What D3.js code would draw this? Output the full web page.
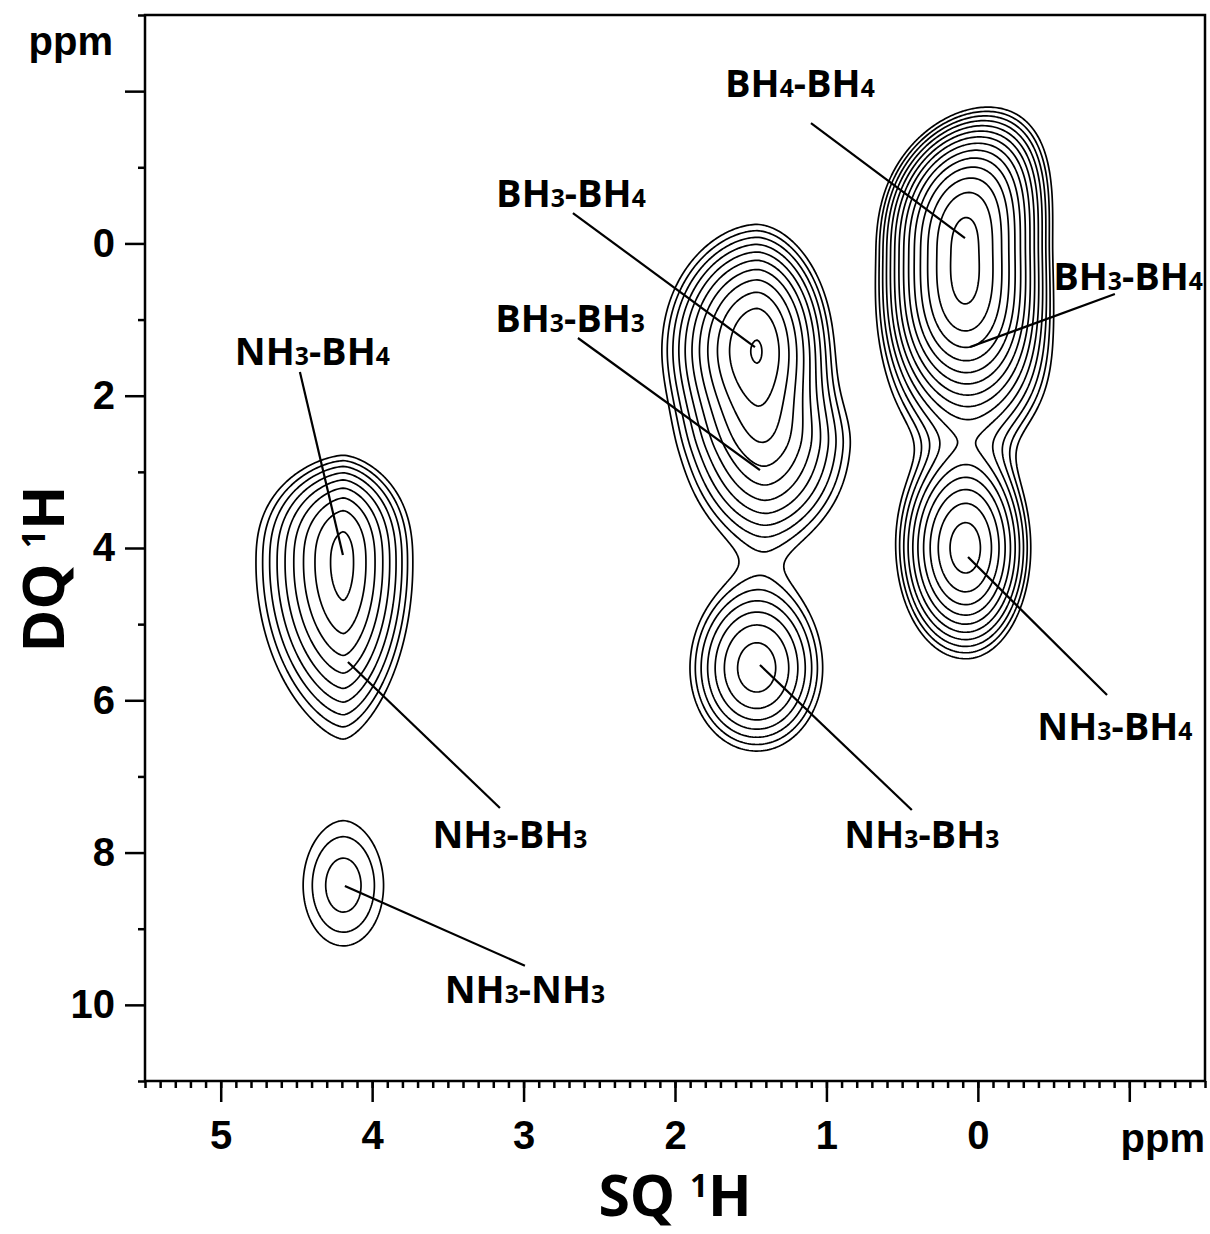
<!DOCTYPE html>
<html><head><meta charset="utf-8">
<script src="https://cdn.jsdelivr.net/npm/d3@7"></script>
<style>body{margin:0;background:#fff}</style>
</head><body>
<svg id="chart" width="1210" height="1234" xmlns="http://www.w3.org/2000/svg"></svg>
<script>
// ---------------- DATA ----------------
// Peaks (SQ ppm, DQ ppm) modelled as separable super-Gaussian components
const peakNames       = ["NH3-BH4 L", "NH3-NH3", "BH3-BH4 M", "BH3-BH3", "NH3-BH3 M", "BH4-BH4", "BH3-BH4 R", "NH3-BH4 R"];
const peakSQ          = [4.19, 4.19, 1.46, 1.40, 1.46, 0.085, 0.06, 0.08];
const peakDQ          = [4.20, 8.44, 1.35, 2.70, 5.58, 0.11, 1.72, 4.00];
const peakAmp         = [6.5, 1.73, 9.2, 4.2, 4.3, 19.5, 3.85, 8.3];
const peakWidthSQHigh = [0.39, 0.357, 0.40, 0.42, 0.365, 0.34, 0.40, 0.315];
const peakWidthSQLow  = [0.31, 0.357, 0.32, 0.44, 0.36, 0.335, 0.42, 0.295];
const peakWidthDQUp   = [1.103, 1.06, 1.074, 0.80, 0.95, 1.25, 0.85, 1.00];
const peakWidthDQDown = [1.66, 1.06, 1.00, 1.10, 0.90, 1.33, 0.85, 1.00];
const peakShapeSQ     = [1.6, 2, 1.8, 1.8, 2, 2, 2, 2];
const peakShapeDQUp   = [2.5, 2, 2, 2, 2, 2.6, 2, 2];
const peakShapeDQDown = [2, 2, 2, 2, 2, 3, 2, 2];
const peakLean        = [0, 0, 0, 0, 0, 0.042, 0, 0];   // upper part leans toward low SQ

// contour levels (geometric, factor 1.25)
const contourLevels = [1.00, 1.25, 1.5625, 1.953, 2.441, 3.052, 3.815, 4.768, 5.960, 7.451, 9.313, 11.64, 14.55, 18.19, 22.74];

// axis ticks
const sqMajorTicks = [5, 4, 3, 2, 1, 0, -1];
const sqTickLabels = ["5", "4", "3", "2", "1", "0", ""];
const dqMajorTicks = [-2, 0, 2, 4, 6, 8, 10];
const dqTickLabels = ["", "0", "2", "4", "6", "8", "10"];

// annotations: label text parts [main, sub, main, sub], label anchor (SQ, DQ), leader from/to (SQ, DQ)
const annoText  = [["BH","4","-BH","4"], ["BH","3","-BH","4"], ["BH","3","-BH","3"], ["BH","3","-BH","4"],
                   ["NH","3","-BH","4"], ["NH","3","-BH","3"], ["NH","3","-NH","3"], ["NH","3","-BH","3"], ["NH","3","-BH","4"]];
const annoLabelSQ = [1.175, 2.687, 2.693, -0.992, 4.395, 3.090, 2.991, 0.370, -0.905];
const annoLabelDQ = [-1.923, -0.478, 1.164, 0.612, 1.596, 7.941, 9.976, 7.941, 6.522];
const annoFromSQ  = [1.102, 2.674, 2.641, -0.905, 4.477, 3.156, 2.991, 0.436, -0.853];
const annoFromDQ  = [-1.581, -0.399, 1.242, 0.665, 1.689, 7.415, 9.486, 7.441, 5.930];
const annoToSQ    = [0.085, 1.472, 1.439, 0.052, 4.193, 4.160, 4.180, 1.439, 0.065];
const annoToDQ    = [-0.071, 1.361, 2.976, 1.361, 4.092, 5.498, 8.439, 5.536, 4.118];

// ---------------- CHART ----------------
const m = {left: 145, top: 15, right: 1205, bottom: 1081};
const x = d3.scaleLinear().domain([5.5, -1.5]).range([m.left, m.right]);
const y = d3.scaleLinear().domain([-3, 11]).range([m.top, m.bottom]);
const svg = d3.select("#chart");

function field(sq, dq) {
  let v = 0;
  for (let i = 0; i < peakSQ.length; i++) {
    const ddq = dq - peakDQ[i];
    const c = peakSQ[i] - (ddq < 0 ? peakLean[i] * ddq * ddq : 0);
    const dsq = sq - c;
    const sx = dsq > 0 ? peakWidthSQHigh[i] : peakWidthSQLow[i];
    const sy = ddq < 0 ? peakWidthDQUp[i] : peakWidthDQDown[i];
    const py = ddq < 0 ? peakShapeDQUp[i] : peakShapeDQDown[i];
    const e = Math.pow(Math.abs(dsq) / sx, peakShapeSQ[i]) + Math.pow(Math.abs(ddq) / sy, py);
    v += peakAmp[i] * Math.exp(-e);
  }
  return v;
}

const step = 2;
const nx = Math.ceil((m.right - m.left) / step) + 1;
const ny = Math.ceil((m.bottom - m.top) / step) + 1;
const values = new Float64Array(nx * ny);
for (let j = 0; j < ny; j++) {
  const dq = y.invert(m.top + j * step);
  for (let i = 0; i < nx; i++) {
    values[j * nx + i] = field(x.invert(m.left + i * step), dq);
  }
}
const contours = d3.contours().size([nx, ny]).thresholds(contourLevels)(values);
const proj = d3.geoTransform({point: function (px, py) {
  this.stream.point(m.left + (px - 0.5) * step, m.top + (py - 0.5) * step);
}});
const path = d3.geoPath(proj);

svg.append("g").attr("class", "contours")
  .selectAll("path").data(contours).join("path")
  .attr("d", path)
  .attr("fill", "none")
  .attr("stroke", "#000")
  .attr("stroke-width", 1.7)
  .attr("stroke-linejoin", "round");

// leader lines
const annIdx = d3.range(annoText.length);
svg.append("g").selectAll("line").data(annIdx).join("line")
  .attr("x1", i => x(annoFromSQ[i])).attr("y1", i => y(annoFromDQ[i]))
  .attr("x2", i => x(annoToSQ[i])).attr("y2", i => y(annoToDQ[i]))
  .attr("stroke", "#000").attr("stroke-width", 2.2);

// labels
const lab = svg.append("g").attr("font-family", "'Open Sans', 'DejaVu Sans', sans-serif")
  .attr("font-weight", "bold").attr("font-size", 38).attr("fill", "#000");
annIdx.forEach(i => {
  const t = lab.append("text").attr("x", x(annoLabelSQ[i])).attr("y", y(annoLabelDQ[i]))
    .attr("text-anchor", "middle");
  annoText[i].forEach((s, k) => {
    t.append("tspan").attr("font-size", k % 2 ? "0.65em" : "1em").text(s);
  });
});

// axes
const axisFont = "'Liberation Sans', Arial, sans-serif";
const gx = svg.append("g").attr("transform", `translate(0,${m.bottom})`)
  .call(d3.axisBottom(x).tickValues(sqMajorTicks).tickSize(21).tickSizeOuter(0).tickPadding(19)
    .tickFormat((d, i) => sqTickLabels[i]));
const gxm = svg.append("g").attr("transform", `translate(0,${m.bottom})`)
  .call(d3.axisBottom(x).tickValues(d3.range(-15, 56).map(v => v / 10)).tickSize(7).tickSizeOuter(0).tickFormat(""));
const gy = svg.append("g").attr("transform", `translate(${m.left},0)`)
  .call(d3.axisLeft(y).tickValues(dqMajorTicks).tickSize(20).tickSizeOuter(0).tickPadding(10)
    .tickFormat((d, i) => dqTickLabels[i]));
const gym = svg.append("g").attr("transform", `translate(${m.left},0)`)
  .call(d3.axisLeft(y).tickValues(d3.range(-3, 12, 2)).tickSize(7).tickSizeOuter(0).tickFormat(""));
[gx, gxm, gy, gym].forEach(g => {
  g.select(".domain").remove();
  g.selectAll("line").attr("stroke", "#000").attr("stroke-width", 2.5);
  g.attr("font-family", axisFont).attr("font-size", 40).attr("font-weight", "bold");
  g.selectAll("text").attr("fill", "#000");
});

// frame
svg.append("rect").attr("x", m.left).attr("y", m.top)
  .attr("width", m.right - m.left).attr("height", m.bottom - m.top)
  .attr("fill", "none").attr("stroke", "#000").attr("stroke-width", 2.5);

// unit labels
svg.append("text").attr("x", 113).attr("y", 55).attr("text-anchor", "end")
  .attr("font-family", axisFont).attr("font-size", 40).attr("font-weight", "bold").text("ppm");
svg.append("text").attr("x", 1205).attr("y", 1152).attr("text-anchor", "end")
  .attr("font-family", axisFont).attr("font-size", 40).attr("font-weight", "bold").text("ppm");

// axis titles
const titleFont = "'Open Sans', 'DejaVu Sans', sans-serif";
const tx = svg.append("text").attr("x", (m.left + m.right) / 2).attr("y", 1216).attr("text-anchor", "middle")
  .attr("font-family", titleFont).attr("font-size", 57).attr("font-weight", "bold");
tx.append("tspan").text("SQ ");
tx.append("tspan").attr("font-size", "0.55em").attr("dy", "-0.6em").text("1");
tx.append("tspan").attr("dy", "0.33em").text("H");

const ty = svg.append("text").attr("transform", "translate(64,569) rotate(-90)").attr("text-anchor", "middle")
  .attr("font-family", titleFont).attr("font-size", 58).attr("font-weight", "bold");
ty.append("tspan").text("DQ ");
ty.append("tspan").attr("font-size", "0.55em").attr("dy", "-0.6em").text("1");
ty.append("tspan").attr("dy", "0.33em").text("H");
</script>
</body></html>
